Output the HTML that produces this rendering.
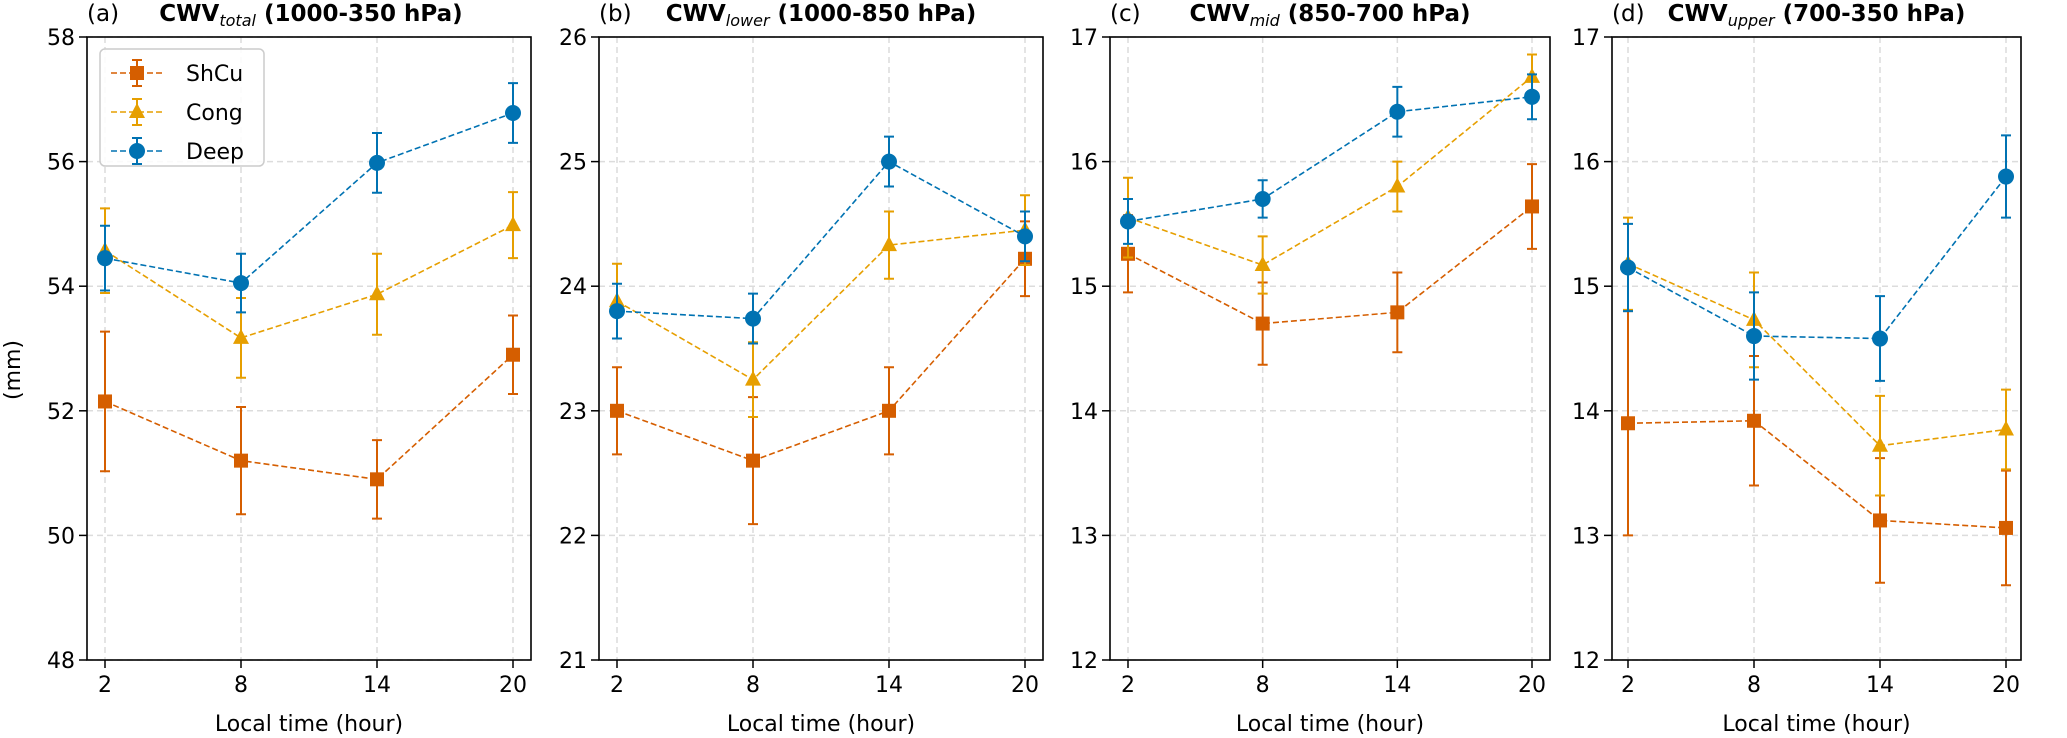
<!DOCTYPE html>
<html><head><meta charset="utf-8"><style>
body{margin:0;background:#fff;}
svg{display:block;font-family:"DejaVu Sans","Liberation Sans",sans-serif;}
</style></head><body>
<svg id="chart" width="2067" height="738" viewBox="0 0 2067 738" xmlns="http://www.w3.org/2000/svg"></svg>
<script>
const hours = [2, 8, 14, 20];
const seriesNames = ["ShCu", "Cong", "Deep"];
const panelTitles = ["total", "lower", "mid", "upper"];
const panelRanges = ["(1000-350 hPa)", "(1000-850 hPa)", "(850-700 hPa)", "(700-350 hPa)"];
const panelYMin = [48, 21, 12, 12];
const panelYMax = [58, 26, 17, 17];
const yTicksA = [48, 50, 52, 54, 56, 58];
const yTicksB = [21, 22, 23, 24, 25, 26];
const yTicksC = [12, 13, 14, 15, 16, 17];
const yTicksD = [12, 13, 14, 15, 16, 17];
const shcuMean = [[52.15, 51.2, 50.9, 52.9], [23.0, 22.6, 23.0, 24.22], [15.26, 14.7, 14.79, 15.64], [13.9, 13.92, 13.12, 13.06]];
const shcuErr  = [[1.12, 0.86, 0.63, 0.63], [0.35, 0.51, 0.35, 0.3], [0.31, 0.33, 0.32, 0.34], [0.9, 0.52, 0.5, 0.46]];
const congMean = [[54.57, 53.17, 53.87, 54.98], [23.88, 23.25, 24.33, 24.45], [15.55, 15.17, 15.8, 16.68], [15.18, 14.73, 13.72, 13.85]];
const congErr  = [[0.68, 0.64, 0.65, 0.53], [0.3, 0.3, 0.27, 0.28], [0.32, 0.23, 0.2, 0.18], [0.37, 0.38, 0.4, 0.32]];
const deepMean = [[54.45, 54.05, 55.98, 56.78], [23.8, 23.74, 25.0, 24.4], [15.52, 15.7, 16.4, 16.52], [15.15, 14.6, 14.58, 15.88]];
const deepErr  = [[0.52, 0.47, 0.48, 0.48], [0.22, 0.2, 0.2, 0.2], [0.18, 0.15, 0.2, 0.18], [0.35, 0.35, 0.34, 0.33]];

const NS = "http://www.w3.org/2000/svg";
const svg = document.getElementById("chart");
const colors = ["#d55e00", "#e69f00", "#0072b2"];
const panels = [
  {l:87, r:531, x2:105, x20:513},
  {l:599, r:1043, x2:617, x20:1025},
  {l:1110, r:1550, x2:1128, x20:1532},
  {l:1612, r:2021, x2:1628, x20:2006}
];
const TOP = 37, BOT = 660;
const yTicksAll = [yTicksA, yTicksB, yTicksC, yTicksD];
const means = [shcuMean, congMean, deepMean];
const errs = [shcuErr, congErr, deepErr];
const letters = ["a","b","c","d"];

function mk(tag, attrs, parent){
  const e = document.createElementNS(NS, tag);
  for (const k in attrs) e.setAttribute(k, attrs[k]);
  (parent || svg).appendChild(e);
  return e;
}
function marker(g, s, x, y){
  let m;
  if (s === 0) m = mk("rect", {x:x-7, y:y-7, width:14, height:14, fill:colors[0]}, g);
  else if (s === 1) m = mk("polygon", {points:`${x},${y-9} ${x+8},${y+6} ${x-8},${y+6}`, fill:colors[1]}, g);
  else m = mk("circle", {cx:x, cy:y, r:8, fill:colors[2]}, g);
  return m;
}

panels.forEach((p, pi) => {
  const xs = v => p.x2 + (v - 2) * (p.x20 - p.x2) / 18;
  const ys = v => BOT - (v - panelYMin[pi]) * (BOT - TOP) / (panelYMax[pi] - panelYMin[pi]);
  const g = mk("g", {});
  
  
  hours.forEach(h => {
    const gl = mk("line", {x1:xs(h), x2:xs(h), y1:TOP, y2:BOT, stroke:"#dcdcdc", "stroke-width":1.5, "stroke-dasharray":"6,4"}, g);
    
    
  });
  yTicksAll[pi].forEach(t => {
    const gl = mk("line", {x1:p.l, x2:p.r, y1:ys(t), y2:ys(t), stroke:"#dcdcdc", "stroke-width":1.5, "stroke-dasharray":"6,4"}, g);
    
    
    const tk = mk("line", {x1:p.l-8, x2:p.l, y1:ys(t), y2:ys(t), stroke:"#000", "stroke-width":1.5}, g);
    
    
    const tl = mk("text", {x:p.l-12, y:ys(t)+8, "text-anchor":"end", "font-size":22}, g);
    tl.textContent = t;
    
    
  });
  hours.forEach(h => {
    const tk = mk("line", {x1:xs(h), x2:xs(h), y1:BOT, y2:BOT+8, stroke:"#000", "stroke-width":1.5}, g);
    
    
    const tl = mk("text", {x:xs(h), y:BOT+32, "text-anchor":"middle", "font-size":22}, g);
    tl.textContent = h;
    
    
  });
  const frame = mk("rect", {x:p.l, y:TOP, width:p.r-p.l, height:BOT-TOP, fill:"none", stroke:"#000", "stroke-width":1.6}, g);
  
  
  const xl = mk("text", {x:(p.l+p.r)/2, y:731, "text-anchor":"middle", "font-size":22}, g);
  xl.textContent = "Local time (hour)";
  
  
  const tL = mk("text", {x:p.l, y:21, "font-size":23}, g);
  tL.textContent = "(" + letters[pi] + ")";
  
  
  const tt = mk("text", {x:(p.l+p.r)/2 + (pi===0?2:0), y:21, "text-anchor":"middle", "font-size":23, "font-weight":"bold"}, g);
  
  
  const s1 = mk("tspan", {}, tt); s1.textContent = "CWV";
  const s2 = mk("tspan", {"font-style":"italic", "font-weight":"normal", "font-size":16, dy:5}, tt); s2.textContent = panelTitles[pi];
  const s3 = mk("tspan", {dy:-5}, tt); s3.textContent = " " + panelRanges[pi];
  means.forEach((M, si) => {
    const sg = mk("g", {}, g);
    
    
    const pts = hours.map((h, i) => xs(h) + "," + ys(M[pi][i])).join(" ");
    const ln = mk("polyline", {points:pts, fill:"none", stroke:colors[si], "stroke-width":1.6, "stroke-dasharray":"6,3"}, sg);
    
    
    hours.forEach((h, i) => {
      const x = xs(h), v = M[pi][i], e = errs[si][pi][i];
      const y1 = ys(v + e), y2 = ys(v - e);
      const eb = mk("path", {d:`M${x},${y1}V${y2}M${x-5},${y1}H${x+5}M${x-5},${y2}H${x+5}`, stroke:colors[si], "stroke-width":2, fill:"none"}, sg);
      
      
      const m = marker(sg, si, x, ys(v));
      
      
    });
  });
});
const yl = mk("text", {x:20, y:370, "text-anchor":"middle", "font-size":22, transform:"rotate(-90 20 370)"});
yl.textContent = "(mm)";


const lg = mk("g", {});


const lb = mk("rect", {x:100, y:49, width:164, height:117, rx:5, fill:"#fff", "fill-opacity":0.85, stroke:"#ccc", "stroke-width":1.5}, lg);


seriesNames.forEach((n, si) => {
  const y = 73 + si * 39;
  const eg = mk("g", {}, lg);
  
  
  mk("line", {x1:111, x2:163, y1:y, y2:y, stroke:colors[si], "stroke-width":1.6, "stroke-dasharray":"6,3"}, eg);
  mk("path", {d:`M137,${y-13}V${y+13}M132,${y-13}H142M132,${y+13}H142`, stroke:colors[si], "stroke-width":2, fill:"none"}, eg);
  marker(eg, si, 137, y);
  const t = mk("text", {x:186, y:y+8, "font-size":22}, eg);
  t.textContent = n;
});
</script>
</body></html>
